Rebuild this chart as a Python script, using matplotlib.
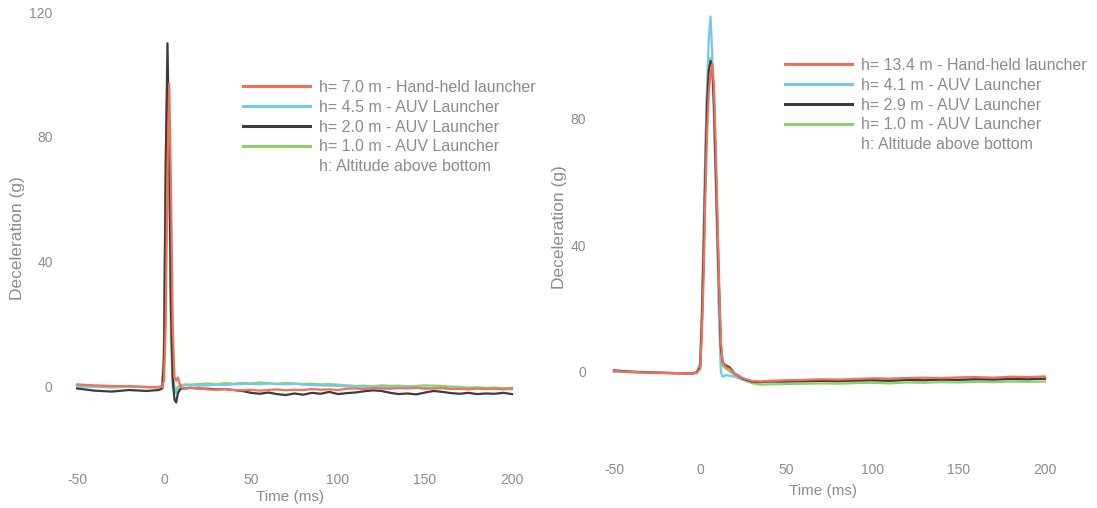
import matplotlib
matplotlib.use("Agg")
import matplotlib.pyplot as plt
from matplotlib.lines import Line2D

plt.rcParams['font.family'] = ['Liberation Sans', 'DejaVu Sans']
plt.rcParams['axes.unicode_minus'] = False

# ---------------- data: left panel ----------------
t_left = [-50, -40, -30, -20, -10, -3, -1, 0, 1, 2, 3, 4, 5, 6, 7, 8, 9, 10, 12, 15,
          20, 25, 30, 35, 40, 45, 50, 55, 60, 65, 70, 75, 80, 85, 90, 95, 100, 105,
          110, 115, 120, 125, 130, 135, 140, 145, 150, 155, 160, 165, 170, 175, 180,
          185, 190, 195, 200]
left_red = [0.8, 0.5, 0.3, 0.2, 0.0, -0.2, 0.0, 2, 20, 70, 97, 65, 20, 3, 2, 3, 1, -0.2, -0.5, -0.3,
            -0.5, -0.8, -0.9, -0.7, -1.0, -1.1, -0.9, -1.2, -1.0, -0.8, -1.1, -0.9, -1.0, -0.7, -0.9, -0.8, -1.0, -0.6,
            -0.5, -0.7, -0.4, -0.5, -0.6, -0.4, -0.5, -0.3, -0.6, -0.5, -0.4, -0.7, -0.6, -0.8, -0.5,
            -0.7, -0.6, -0.8, -0.5]
left_blue = [0.3, 0.1, 0.0, 0.2, -0.1, 0.0, 0.2, 10, 65, 100, 80, 30, 5, 0, -2, -1, 0, 0.3, 0.5, 0.6,
             0.4, 0.5, 0.7, 0.6, 0.8, 0.9, 1.0, 0.8, 1.1, 0.9, 0.8, 1.0, 0.7, 0.6, 0.5, 0.4, 0.3, 0.2,
             0.1, 0.0, -0.1, 0.0, -0.2, -0.1, 0.0, -0.3, -0.2, -0.4, -0.3, -0.5, -0.4, -0.6, -0.5,
             -0.6, -0.7, -0.6, -0.8]
left_black = [-0.5, -1.2, -1.5, -1.0, -1.3, -1.0, -0.5, 8, 70, 110, 75, 25, 3, -4, -5, -2, -1, -0.5, -0.5, -0.3,
              -0.5, -0.6, -0.8, -0.7, -1.0, -1.3, -1.9, -2.2, -1.8, -2.3, -2.6, -2.1, -2.5, -1.9, -2.2, -1.6, -2.3, -2.0,
              -1.8, -1.4, -1.1, -1.3, -1.9, -2.3, -2.1, -2.4, -1.8, -1.3, -1.6, -2.0, -2.2, -1.9, -2.3,
              -2.1, -2.2, -1.9, -2.3]
left_green = [0.2, 0.0, -0.2, 0.1, -0.1, 0.0, 0.5, 15, 75, 100, 70, 15, 0, -2, -1, 0, 0.5, 0.6, 0.8, 0.7,
              0.9, 1.1, 0.8, 1.2, 1.0, 1.3, 1.1, 1.4, 1.2, 1.0, 1.3, 1.1, 0.9, 1.0, 0.8, 0.9, 0.7, 0.5,
              0.3, 0.4, 0.2, 0.5, 0.3, 0.4, 0.2, 0.3, 0.5, 0.4, 0.3, 0.1, 0.0, -0.2, -0.1,
              -0.3, -0.2, -0.4, -0.3]
left_labels = ["h= 7.0 m - Hand-held launcher", "h= 4.5 m - AUV Launcher",
               "h= 2.0 m - AUV Launcher", "h= 1.0 m - AUV Launcher"]
left_yticks = [0, 40, 80, 120]

# ---------------- data: right panel ----------------
t_right = [-50, -40, -30, -20, -10, -5, -2, 0, 1, 2, 3, 4, 5, 6, 7, 8, 9, 10, 11, 12, 13, 15, 17,
           20, 25, 30, 35, 40, 50, 60, 70, 80, 90, 100, 110, 120, 130, 140, 150, 160, 170, 180, 190, 200]
right_red = [0.3, 0.0, -0.2, -0.3, -0.4, -0.5, -0.3, 1, 12, 30, 55, 75, 88, 94, 97, 90, 72, 50, 28, 10, 3, 1.5, 1.0,
             -0.5, -2.0, -2.8, -3.0, -2.8, -2.6, -2.5, -2.3, -2.4, -2.2, -2.0, -2.1, -1.9, -1.8, -1.9, -1.7, -1.6, -1.8, -1.5, -1.6, -1.4]
right_blue = [0.2, 0.0, -0.3, -0.2, -0.5, -0.6, -0.2, 2, 18, 40, 68, 90, 105, 112, 100, 80, 60, 40, 15, 0, -1.5, -1.0, -1.2,
              -1.5, -2.5, -3.0, -3.2, -3.0, -2.9, -2.8, -2.7, -2.8, -2.6, -2.5, -2.6, -2.4, -2.5, -2.3, -2.4, -2.2, -2.3, -2.2, -2.1, -2.2]
right_black = [0.5, 0.1, -0.1, -0.3, -0.4, -0.5, -0.2, 1.5, 16, 38, 62, 85, 95, 98, 96, 85, 65, 45, 25, 8, 3, 2.0, 1.5,
               -0.5, -2.2, -3.0, -3.2, -3.0, -3.0, -2.9, -2.8, -2.9, -2.7, -2.6, -2.8, -2.5, -2.6, -2.4, -2.5, -2.3, -2.4, -2.2, -2.3, -2.1]
right_green = [0.1, -0.1, -0.3, -0.4, -0.5, -0.6, 0.0, 3, 20, 45, 70, 88, 96, 99, 96, 82, 62, 40, 20, 5, 2, 1.0, 0.2,
               -1.0, -2.5, -3.5, -4.0, -3.9, -3.8, -3.7, -3.6, -3.7, -3.5, -3.4, -3.6, -3.3, -3.4, -3.2, -3.3, -3.1, -3.2, -3.0, -3.1, -3.0]
right_labels = ["h= 13.4 m - Hand-held launcher", "h= 4.1 m - AUV Launcher",
                "h= 2.9 m - AUV Launcher", "h= 1.0 m - AUV Launcher"]
right_yticks = [0, 40, 80]

note_label = "h: Altitude above bottom"
x_ticks = [-50, 0, 50, 100, 150, 200]

# ---------------- style ----------------
C_RED = '#f36f58'
C_BLUE = '#74c8ee'
C_BLACK = '#3c3c3c'
C_GREEN = '#8ad264'
TXT = '#8c8c8c'
FS_TICK = 10
FS_LEG = 11.5

W, H = 1097, 508
fig = plt.figure(figsize=(W / 100, H / 100), dpi=100)
fig.patch.set_facecolor('white')


def px_axes(l, r, t, b):
    return fig.add_axes([l / W, 1 - b / H, (r - l) / W, (b - t) / H])


axL = px_axes(59.6, 520.7, 12, 465)
axR = px_axes(593.3, 1053.6, 0.0, 454.5)


def style(ax, xlim, ylim, yticks, xpad, xlabelpad):
    ax.set_xlim(*xlim)
    ax.set_ylim(*ylim)
    for s in ax.spines.values():
        s.set_visible(False)
    ax.set_xticks(x_ticks)
    ax.set_yticks(yticks)
    ax.tick_params(length=0, colors=TXT, labelsize=FS_TICK, pad=5)
    ax.tick_params(axis='x', pad=xpad)
    ax.set_xlabel("Time (ms)", color=TXT, fontsize=11, labelpad=xlabelpad)
    ax.set_ylabel("Deceleration (g)", color=TXT, fontsize=12.5, labelpad=3)


def draw(ax, t, series, labels, legend_xy):
    red, blue, black, green = series
    lw = 1.6
    ax.plot(t, green, color=C_GREEN, lw=lw, zorder=2)
    ax.plot(t, blue, color=C_BLUE, lw=lw, zorder=3)
    ax.plot(t, black, color=C_BLACK, lw=lw, zorder=4)
    ax.plot(t, red, color=C_RED, lw=lw, zorder=5)
    handles = [Line2D([], [], color=C_RED, lw=2.2),
               Line2D([], [], color=C_BLUE, lw=2.2),
               Line2D([], [], color=C_BLACK, lw=2.2),
               Line2D([], [], color=C_GREEN, lw=2.2),
               Line2D([], [], color='none', lw=0)]
    fig.legend(handles, labels + [note_label], loc='upper left',
               bbox_to_anchor=(legend_xy[0] / W, 1 - legend_xy[1] / H),
               bbox_transform=fig.transFigure, frameon=False,
               fontsize=FS_LEG, labelcolor=TXT, handlelength=4.2,
               handletextpad=0.55, labelspacing=0.3, borderpad=0,
               borderaxespad=0)


style(axL, (-60, 205), (-25, 120), left_yticks, 6, 2)
style(axR, (-62, 205), (-26, 117.2), right_yticks, 6, 5)
draw(axL, t_left, [left_red, left_blue, left_black, left_green], left_labels, (243, 80))
draw(axR, t_right, [right_red, right_blue, right_black, right_green], right_labels, (785, 58))

fig.savefig("out.png", dpi=100, facecolor='white')
